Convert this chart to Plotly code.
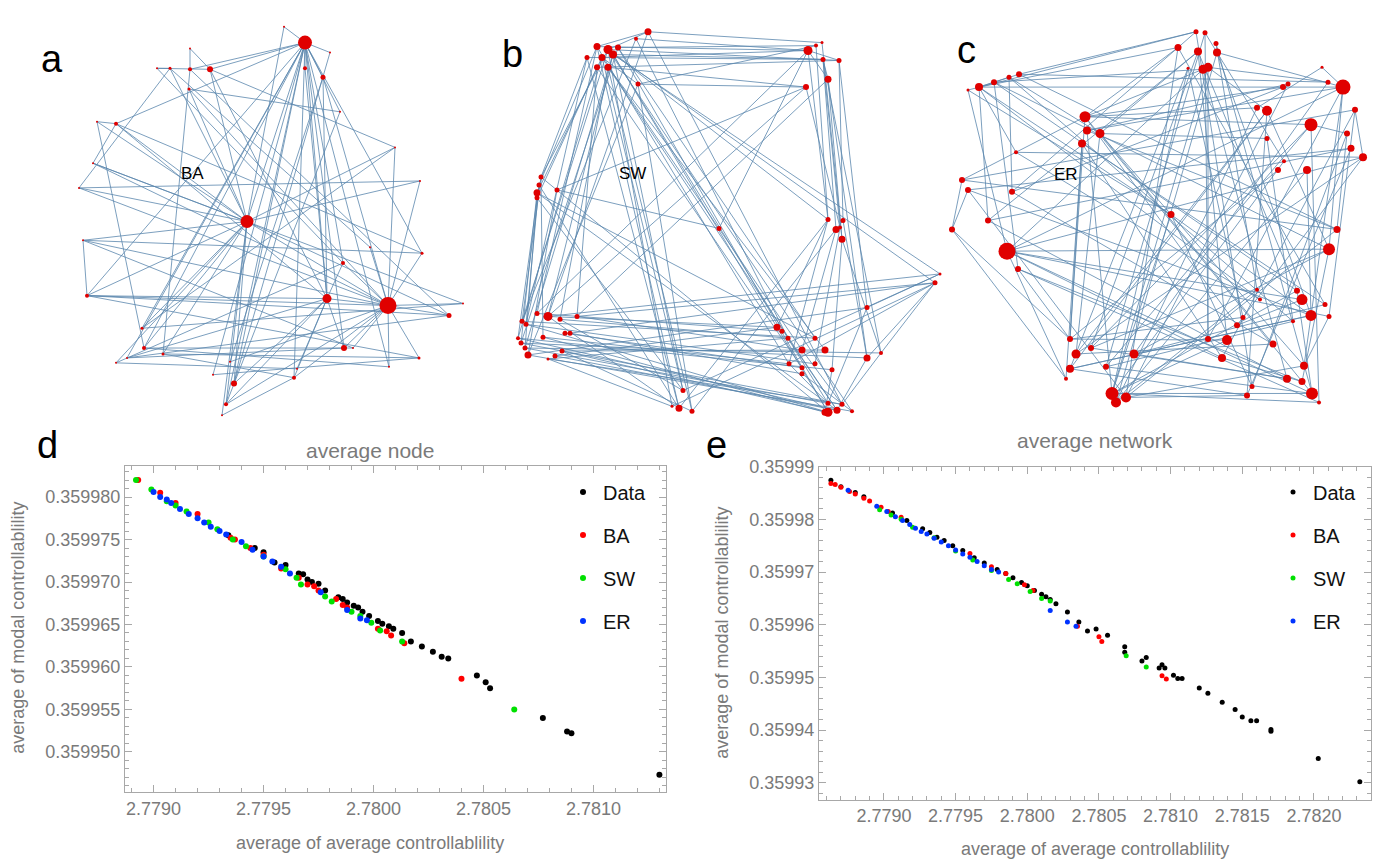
import plotly.graph_objects as go

W, H = 1379, 860

# ---------------- network data (node positions in page pixels) ----------------
# a: BA
ba_x = [305, 247, 388, 327, 210, 190, 170, 323, 305, 116, 87, 344, 343, 449, 234, 226, 294, 144, 163, 142,
        422, 419, 189, 389, 127, 97, 83, 420, 395, 330, 284, 79, 463, 353, 213, 230, 222, 370, 340, 190, 157, 116, 93, 297]
ba_y = [33, 214, 299, 292, 60, 60, 59, 68, 59, 115, 289, 342, 256, 309, 378, 399, 372, 342, 348, 322,
        246, 352, 80, 361, 352, 113, 233, 173, 139, 43, 17, 180, 297, 342, 369, 356, 410, 240, 103, 39, 59, 357, 155, 363]
ba_s = [14, 13, 17, 9, 6, 4, 3, 5, 4, 4, 4, 6, 4, 5, 6, 4, 4, 4, 3, 3,
        3, 3, 3, 2, 2, 2, 2, 2, 2, 2, 2, 2, 2, 2, 2, 2, 2, 2, 2, 2, 2, 2, 2, 2]
ba_edges = [(0, 1), (0, 3), (0, 11), (0, 14), (0, 15), (0, 16), (0, 4), (0, 5), (0, 9), (0, 19), (0, 17), (0, 24),
            (0, 10), (0, 12), (0, 34), (0, 23), (0, 7), (0, 8), (0, 29), (0, 30), (0, 38), (0, 20),
            (1, 9), (1, 10), (1, 26), (1, 31), (1, 4), (1, 6), (1, 13), (1, 2), (1, 14), (1, 15), (1, 17), (1, 18),
            (1, 41), (1, 27), (1, 28), (1, 22), (1, 25), (1, 42), (1, 36), (1, 19),
            (2, 3), (2, 12), (2, 13), (2, 20), (2, 21), (2, 23), (2, 7), (2, 16), (2, 15), (2, 11), (2, 32), (2, 27),
            (2, 10), (2, 37), (2, 33), (2, 28), (2, 35), (2, 26), (2, 31), (2, 42),
            (3, 7), (3, 8), (3, 11), (3, 14), (3, 15), (3, 16), (3, 10), (3, 4), (3, 12), (3, 9), (3, 43), (3, 24),
            (4, 40), (4, 39), (5, 39), (6, 40), (9, 25), (9, 42), (10, 13), (10, 26), (17, 33), (18, 21), (19, 28),
            (24, 13), (31, 27), (26, 20), (41, 43), (34, 21), (36, 16), (42, 32), (22, 38), (6, 31), (5, 18),
            (25, 17), (40, 12), (30, 1), (4, 28), (5, 13), (6, 37), (9, 20), (22, 2), (29, 14), (38, 15), (7, 35),
            (17, 23), (19, 32), (10, 21), (26, 33), (41, 12), (24, 11), (18, 16)]

# b: SW
sw_x = [597, 608, 613, 602, 587, 608, 597, 618, 648, 636, 638,
        808, 823, 839, 828, 806, 816, 822,
        541, 539, 537, 537, 557, 719,
        828, 836, 843, 842, 840, 935, 940,
        548, 537, 560, 577, 522, 526, 518, 521, 525, 528, 543, 565, 570, 562, 555, 548,
        777, 782, 788, 802, 825, 815, 789, 802, 802, 815, 832, 867, 881, 867,
        679, 683, 692, 672, 828, 837, 842, 828, 852, 825]
sw_y = [37, 40, 45, 48, 48, 58, 58, 38, 22, 29, 75,
        41, 50, 51, 70, 78, 36, 33,
        169, 177, 185, 190, 182, 221,
        212, 222, 213, 232, 220, 276, 267,
        310, 307, 313, 310, 315, 318, 332, 337, 342, 349, 331, 327, 327, 345, 350, 353,
        321, 325, 332, 344, 344, 332, 358, 362, 368, 358, 364, 352, 347, 301,
        403, 385, 406, 401, 407, 405, 399, 398, 406, 407]
sw_s = [7, 9, 8, 7, 5, 7, 6, 6, 7, 4, 5,
        9, 5, 5, 7, 6, 4, 3,
        5, 5, 7, 5, 5, 5,
        5, 7, 5, 7, 4, 5, 3,
        9, 5, 5, 5, 5, 5, 4, 5, 5, 7, 5, 5, 5, 5, 5, 3,
        7, 5, 5, 7, 7, 5, 5, 5, 5, 5, 5, 7, 4, 5,
        7, 5, 5, 3, 9, 7, 5, 5, 4, 7]
sw_edges = [(0, 11), (2, 12), (1, 13), (3, 11), (7, 16), (8, 17), (9, 11), (5, 15), (4, 12), (6, 13),
            (4, 18), (0, 19), (3, 20), (6, 21), (1, 18),
            (0, 32), (1, 35), (2, 31), (3, 37), (4, 36), (5, 33), (6, 34), (7, 38), (8, 31), (9, 35), (2, 39), (10, 40),
            (1, 24), (2, 47), (3, 50), (5, 51), (7, 52), (0, 53), (6, 54), (1, 29), (2, 30), (9, 49),
            (0, 61), (3, 62), (5, 63), (1, 64), (4, 61), (10, 63), (2, 62),
            (7, 65), (5, 66), (8, 67), (2, 68), (1, 69),
            (11, 24), (12, 25), (13, 26), (14, 27), (15, 28), (16, 24), (17, 27), (12, 28),
            (15, 31), (11, 32), (14, 34),
            (15, 22), (11, 23), (13, 60), (14, 58), (12, 59), (15, 10), (16, 10),
            (18, 35), (19, 37), (20, 38), (21, 39), (22, 40), (18, 41), (19, 36),
            (18, 65), (20, 66), (21, 62), (19, 61), (22, 23), (20, 52),
            (31, 47), (32, 48), (33, 49), (34, 50), (35, 52), (36, 56), (37, 57), (38, 58), (39, 59), (40, 60),
            (41, 53), (42, 54), (43, 55), (44, 51), (45, 47), (46, 49),
            (36, 65), (37, 66), (38, 67), (39, 68), (40, 69), (41, 70), (44, 65), (45, 66), (46, 67),
            (34, 29), (31, 30), (43, 29),
            (31, 61), (33, 62), (44, 63), (46, 64),
            (24, 47), (25, 50), (26, 58), (27, 59), (28, 56), (24, 53), (27, 57),
            (47, 65), (49, 66), (50, 67), (53, 68), (55, 69), (57, 70), (58, 66), (59, 67), (60, 68),
            (29, 59), (29, 58), (30, 60), (29, 53),
            (61, 24), (63, 26), (62, 30), (64, 29), (0, 8), (1, 8), (3, 10), (11, 13), (11, 14), (12, 14)]

# c: ER
er_x = [1196, 1205, 1178, 1198, 1217, 1216, 1208, 1203, 1188,
        979, 994, 1009, 1019, 968,
        1085, 1087, 1100, 1082, 1016,
        1343, 1328, 1283, 1288, 1267, 1257, 1311, 1355, 1347, 1351, 1363, 1267, 1284, 1278, 1307, 1322,
        962, 968, 1012, 988, 952, 1007, 1018,
        1171, 1337, 1329, 1297, 1302, 1311, 1325, 1329, 1293, 1257, 1260, 1243, 1237, 1227, 1208, 1222,
        1273, 1304, 1287, 1302, 1312, 1319, 1247, 1252,
        1070, 1076, 1070, 1066, 1091, 1106, 1134, 1112, 1126, 1116]
er_y = [22, 23, 38, 42, 43, 34, 58, 60, 59,
        78, 73, 68, 65, 81,
        108, 122, 125, 135, 144,
        78, 73, 78, 75, 102, 99, 116, 101, 125, 140, 149, 130, 153, 162, 162, 58,
        172, 182, 184, 213, 222, 244, 262,
        207, 222, 242, 284, 293, 309, 298, 310, 315, 283, 293, 311, 319, 334, 333, 352,
        338, 360, 373, 376, 388, 397, 390, 381,
        333, 348, 363, 373, 342, 361, 348, 388, 392, 397]
er_s = [5, 5, 7, 8, 8, 5, 9, 9, 3,
        8, 6, 5, 6, 3,
        11, 8, 9, 8, 4,
        15, 5, 6, 5, 10, 6, 13, 6, 6, 7, 8, 5, 4, 6, 8, 3,
        6, 6, 6, 6, 6, 17, 6,
        7, 7, 12, 6, 11, 11, 5, 5, 4, 4, 4, 5, 6, 10, 6, 8,
        7, 8, 8, 7, 12, 4, 6, 5,
        6, 9, 8, 4, 6, 6, 9, 13, 10, 10]
er_edges = [(0, 2), (0, 13), (1, 4), (2, 9), (2, 14), (3, 16), (3, 55), (4, 19), (4, 47), (5, 62), (6, 73), (6, 56),
            (7, 40), (7, 60), (8, 68), (6, 23), (4, 31), (3, 45), (7, 14), (2, 37),
            (9, 11), (9, 12), (9, 18), (9, 38), (10, 41), (11, 37), (12, 0), (12, 20), (13, 40), (10, 44), (11, 16),
            (14, 21), (14, 25), (14, 35), (15, 43), (15, 19), (16, 30), (17, 57), (17, 66), (18, 29), (14, 62),
            (16, 59), (15, 73), (17, 48),
            (19, 21), (19, 34), (19, 44), (19, 59), (20, 6), (21, 9), (22, 15), (23, 44), (24, 14), (25, 27),
            (25, 63), (26, 29), (26, 49), (27, 43), (28, 36), (29, 54), (30, 50), (31, 73), (32, 66), (33, 47),
            (34, 24), (23, 67), (24, 75), (25, 70), (28, 64), (29, 40),
            (35, 43), (35, 26), (36, 47), (37, 58), (38, 28), (39, 35), (39, 36), (39, 69), (40, 44), (40, 46),
            (40, 57), (40, 62), (40, 49), (41, 66), (40, 19), (38, 3), (37, 21),
            (42, 73), (42, 47), (42, 9), (42, 65), (43, 74), (44, 70), (44, 61), (45, 62), (46, 54), (47, 68),
            (48, 72), (49, 59), (50, 71), (51, 75), (52, 9), (53, 66), (54, 14), (55, 73), (56, 19), (57, 61),
            (58, 67), (59, 74), (60, 72), (61, 41), (62, 71), (63, 73), (64, 68), (65, 0),
            (66, 14), (67, 16), (68, 23), (69, 40), (70, 3), (71, 25), (72, 20), (73, 8), (74, 22), (75, 33),
            (73, 45), (74, 2), (75, 4), (67, 29), (68, 47), (66, 55), (70, 60), (71, 1), (72, 44), (73, 62),
            (74, 64), (69, 17), (66, 39), (1, 56), (5, 51), (8, 53), (12, 43), (18, 52), (36, 74), (38, 60),
            (41, 63), (45, 10), (48, 2), (50, 11), (57, 26), (58, 16), (64, 23), (65, 27), (10, 7), (13, 42)]

# ---------------- scatter data ----------------
# d: average node
d_data_x = [2.77934, 2.77946, 2.77950, 2.77955, 2.77960, 2.77966, 2.77968, 2.77970, 2.77972, 2.77975, 2.77978,
            2.77984, 2.77986, 2.77988, 2.77991, 2.77993, 2.77995, 2.77998, 2.78002, 2.78004, 2.78007, 2.78009,
            2.78013, 2.78017, 2.78022, 2.78027, 2.78031, 2.78034, 2.78047, 2.78051, 2.78053, 2.78077, 2.78088,
            2.78090, 2.78130]
d_data_y = [0.3599755, 0.3599740, 0.3599735, 0.3599723, 0.3599720, 0.3599710, 0.3599709, 0.3599703, 0.3599700,
            0.3599698, 0.3599690, 0.3599682, 0.3599680, 0.3599676, 0.3599672, 0.3599670, 0.3599665, 0.3599660,
            0.3599654, 0.3599651, 0.3599648, 0.3599645, 0.3599640, 0.3599630, 0.3599624, 0.3599618, 0.3599612,
            0.3599610, 0.3599590, 0.3599582, 0.3599575, 0.3599540, 0.3599524, 0.3599522, 0.3599473]
d_ba_x = [2.77893, 2.77903, 2.77910, 2.77920, 2.77935, 2.77937, 2.77944, 2.77950, 2.77958, 2.77966, 2.77970,
          2.77973, 2.77975, 2.77983, 2.77986, 2.77988, 2.78002, 2.78006, 2.78008, 2.78014, 2.78040]
d_ba_y = [0.3599820, 0.3599805, 0.3599793, 0.3599780, 0.3599752, 0.3599750, 0.3599740, 0.3599732, 0.3599716,
          0.3599705, 0.3599697, 0.3599695, 0.3599690, 0.3599680, 0.3599673, 0.3599670, 0.3599645, 0.3599642,
          0.3599637, 0.3599628, 0.3599586]
d_sw_x = [2.77892, 2.77899, 2.77906, 2.77910, 2.77915, 2.77925, 2.77929, 2.77936, 2.77942, 2.77950, 2.77960,
          2.77965, 2.77967, 2.77978, 2.77981, 2.77990, 2.77994, 2.77999, 2.78003, 2.78013, 2.78064]
d_sw_y = [0.3599820, 0.3599809, 0.3599795, 0.3599790, 0.3599783, 0.3599770, 0.3599762, 0.3599750, 0.3599742,
          0.3599730, 0.3599715, 0.3599705, 0.3599697, 0.3599683, 0.3599677, 0.3599665, 0.3599660, 0.3599652,
          0.3599643, 0.3599630, 0.3599550]
d_er_x = [2.77900, 2.77903, 2.77906, 2.77908, 2.77912, 2.77916, 2.77920, 2.77923, 2.77926, 2.77930, 2.77933,
          2.77940, 2.77945, 2.77950, 2.77954, 2.77958, 2.77962, 2.77976, 2.77988, 2.77994, 2.77997]
d_er_y = [0.3599806, 0.3599800, 0.3599797, 0.3599793, 0.3599786, 0.3599780, 0.3599775, 0.3599770, 0.3599765,
          0.3599760, 0.3599756, 0.3599747, 0.3599738, 0.3599730, 0.3599724, 0.3599718, 0.3599710, 0.3599688,
          0.3599667, 0.3599657, 0.3599655]

# e: average network
e_data_x = [2.77863, 2.77870, 2.77880, 2.77886, 2.77906, 2.77916, 2.77927, 2.77932, 2.77937, 2.77942, 2.77948,
            2.77955, 2.77963, 2.77970, 2.77979, 2.77985, 2.77990, 2.77996, 2.78000, 2.78005, 2.78010, 2.78013,
            2.78016, 2.78020, 2.78028, 2.78036, 2.78042, 2.78048, 2.78056, 2.78068, 2.78068, 2.78080, 2.78083,
            2.78092, 2.78094, 2.78096, 2.78102, 2.78105, 2.78108, 2.78120, 2.78126, 2.78136, 2.78145, 2.78150,
            2.78156, 2.78160, 2.78170, 2.78170, 2.78203, 2.78232]
e_data_y = [0.3599874, 0.3599862, 0.3599851, 0.3599843, 0.3599812, 0.3599798, 0.3599782, 0.3599775, 0.3599766,
            0.3599760, 0.3599750, 0.3599741, 0.3599727, 0.3599717, 0.3599705, 0.3599697, 0.3599689, 0.3599680,
            0.3599674, 0.3599665, 0.3599658, 0.3599653, 0.3599648, 0.3599640, 0.3599624, 0.3599605, 0.3599588,
            0.3599592, 0.3599580, 0.3599558, 0.3599548, 0.3599531, 0.3599538, 0.3599518, 0.3599524, 0.3599518,
            0.3599504, 0.3599498, 0.3599498, 0.3599480, 0.3599470, 0.3599453, 0.3599439, 0.3599425, 0.3599418,
            0.3599418, 0.3599398, 0.3599401, 0.3599346, 0.3599302]
e_ba_x = [2.77863, 2.77866, 2.77870, 2.77876, 2.77880, 2.77886, 2.77890, 2.77898, 2.77903, 2.77912, 2.77960,
          2.77975, 2.77985, 2.77998, 2.78004, 2.78035, 2.78050, 2.78052, 2.78094, 2.78097]
e_ba_y = [0.3599868, 0.3599866, 0.3599861, 0.3599853, 0.3599848, 0.3599840, 0.3599835, 0.3599823, 0.3599815,
          0.3599804, 0.3599735, 0.3599710, 0.3599697, 0.3599676, 0.3599665, 0.3599597, 0.3599577, 0.3599568,
          0.3599503, 0.3599497]
e_sw_x = [2.77897, 2.77905, 2.77912, 2.77920, 2.77935, 2.77950, 2.77962, 2.77975, 2.77987, 2.77993, 2.78002,
          2.78010, 2.78016, 2.78069, 2.78083]
e_sw_y = [0.3599818, 0.3599808, 0.3599800, 0.3599785, 0.3599765, 0.3599740, 0.3599723, 0.3599703, 0.3599686,
          0.3599678, 0.3599663, 0.3599650, 0.3599645, 0.3599541, 0.3599520]
e_er_x = [2.77875, 2.77895, 2.77902, 2.77908, 2.77913, 2.77918, 2.77922, 2.77926, 2.77930, 2.77935, 2.77940,
          2.77945, 2.77950, 2.77955, 2.77960, 2.77965, 2.77970, 2.77975, 2.77980, 2.78016, 2.78028, 2.78034]
e_er_y = [0.3599855, 0.3599825, 0.3599815, 0.3599805, 0.3599798, 0.3599790, 0.3599783, 0.3599777, 0.3599772,
          0.3599764, 0.3599757, 0.3599750, 0.3599742, 0.3599734, 0.3599728, 0.3599720, 0.3599712, 0.3599705,
          0.3599700, 0.3599627, 0.3599605, 0.3599597]

fig = go.Figure()


def px(x0, x1):
    return [x0 / W, x1 / W]


def py(y0, y1):
    # page pixel top/bottom -> paper domain
    return [1 - y1 / H, 1 - y0 / H]


def add_network(nx, ny, ns, edges, ax, ay):
    ex, ey = [], []
    for a, b in edges:
        ex += [nx[a], nx[b], None]
        ey += [ny[a], ny[b], None]
    fig.add_trace(go.Scatter(x=ex, y=ey, mode='lines', line=dict(color='#5b87ad', width=0.8),
                             xaxis=ax, yaxis=ay, showlegend=False, hoverinfo='skip'))
    fig.add_trace(go.Scatter(x=nx, y=ny, mode='markers',
                             marker=dict(color='#e00000', size=ns, opacity=1, line=dict(width=0)),
                             xaxis=ax, yaxis=ay, showlegend=False))


net_boxes = [('x', 'y', 70, 478, 10, 415), ('x2', 'y2', 500, 944, 10, 415), ('x3', 'y3', 944, 1375, 10, 415)]
add_network(ba_x, ba_y, ba_s, ba_edges, 'x', 'y')
add_network(sw_x, sw_y, sw_s, sw_edges, 'x2', 'y2')
add_network(er_x, er_y, er_s, er_edges, 'x3', 'y3')

lay = {}
for ax, ay, x0, x1, y0, y1 in net_boxes:
    n = ax[1:]
    lay['xaxis' + n] = dict(domain=px(x0, x1), range=[x0, x1], visible=False, anchor=ay)
    lay['yaxis' + n] = dict(domain=py(y0, y1), range=[y1, y0], visible=False, anchor=ax)

# scatter panels
series = [('Data', 'black'), ('BA', '#ff0000'), ('SW', '#00e000'), ('ER', '#0033ff')]
d_sets = [(d_data_x, d_data_y), (d_ba_x, d_ba_y), (d_sw_x, d_sw_y), (d_er_x, d_er_y)]
e_sets = [(e_data_x, e_data_y), (e_ba_x, e_ba_y), (e_sw_x, e_sw_y), (e_er_x, e_er_y)]
for (name, col), (xs, ys) in zip(series, d_sets):
    fig.add_trace(go.Scatter(x=xs, y=ys, mode='markers', name=name, marker=dict(color=col, size=6),
                             xaxis='x4', yaxis='y4', legend='legend', legendgroup='d' + name))
for (name, col), (xs, ys) in zip(series, e_sets):
    fig.add_trace(go.Scatter(x=xs, y=ys, mode='markers', name=name, marker=dict(color=col, size=5),
                             xaxis='x5', yaxis='y5', legend='legend2', legendgroup='e' + name))

tick_font = dict(family='Liberation Sans', size=18, color='#7a7a7a')
frame = dict(showline=True, linecolor='#a8a8a8', linewidth=1.2, mirror='allticks', ticks='inside',
             ticklen=7, tickcolor='#a8a8a8', showgrid=False, zeroline=False, tickfont=tick_font)

lay['xaxis4'] = dict(domain=px(125, 666), range=[2.77887, 2.78133], tickvals=[2.779, 2.7795, 2.78, 2.7805, 2.781],
                     ticktext=['2.7790', '2.7795', '2.7800', '2.7805', '2.7810'], anchor='y4',
                     minor=dict(dtick=0.0001, tick0=2.779, ticks='inside', ticklen=4, tickcolor='#a8a8a8'), **frame)
lay['yaxis4'] = dict(domain=py(461, 791), range=[0.3599453, 0.3599837], tickformat='.6f', dtick=0.000005,
                     tick0=0.35995, anchor='x4',
                     minor=dict(dtick=0.000001, ticks='inside', ticklen=4, tickcolor='#a8a8a8'), **frame)
lay['xaxis5'] = dict(domain=px(819, 1371), range=[2.778547, 2.782398],
                     tickvals=[2.779, 2.7795, 2.78, 2.7805, 2.781, 2.7815, 2.782],
                     ticktext=['2.7790', '2.7795', '2.7800', '2.7805', '2.7810', '2.7815', '2.7820'], anchor='y5',
                     minor=dict(dtick=0.0001, tick0=2.779, ticks='inside', ticklen=4, tickcolor='#a8a8a8'), **frame)
lay['yaxis5'] = dict(domain=py(462, 799), range=[0.3599268, 0.3599900], tickformat='.5f', dtick=0.00001,
                     tick0=0.35993, anchor='x5',
                     minor=dict(dtick=0.000002, ticks='inside', ticklen=4, tickcolor='#a8a8a8'), **frame)

leg_font = dict(family='Liberation Sans', size=20, color='#111')
lay['legend'] = dict(x=563 / W, y=1 - 468 / H, xanchor='left', yanchor='top', font=leg_font,
                     tracegroupgap=14, bgcolor='rgba(0,0,0,0)', itemwidth=30)
lay['legend2'] = dict(x=1273 / W, y=1 - 468 / H, xanchor='left', yanchor='top', font=leg_font,
                      tracegroupgap=14, bgcolor='rgba(0,0,0,0)', itemwidth=30)

gray = '#7a7a7a'
notes = [('a', 52, 50, 38, 'black'), ('b', 512, 45, 38, 'black'), ('c', 967, 40, 38, 'black'),
         ('d', 47, 440, 38, 'black'), ('e', 716, 440, 38, 'black'),
         ('BA', 192, 165, 17, 'black'), ('SW', 632, 165, 17, 'black'), ('ER', 1066, 166, 17, 'black'),
         ('average node', 370, 446, 21, gray), ('average network', 1095, 436, 21, gray),
         ('average of average controllablility', 370, 843, 18, gray),
         ('average of average controllablility', 1095, 849, 18, gray)]
anns = [dict(text=t, x=x / W, y=1 - y / H, xref='paper', yref='paper', showarrow=False,
             font=dict(family='Liberation Sans', size=s, color=c), xanchor='center', yanchor='middle')
        for t, x, y, s, c in notes]
for x, y in [(18, 625), (722, 630)]:
    anns.append(dict(text='average of modal controllablility', x=x / W, y=1 - y / H, xref='paper', yref='paper',
                     showarrow=False, textangle=-90, xanchor='center', yanchor='middle',
                     font=dict(family='Liberation Sans', size=18, color=gray)))

fig.update_layout(width=W, height=H, margin=dict(l=0, r=0, t=0, b=0), plot_bgcolor='white',
                  paper_bgcolor='white', annotations=anns, **lay)
fig.write_html('out.html', config={'displayModeBar': False},
               post_script="document.body.style.margin='0';document.body.style.overflow='hidden';")
